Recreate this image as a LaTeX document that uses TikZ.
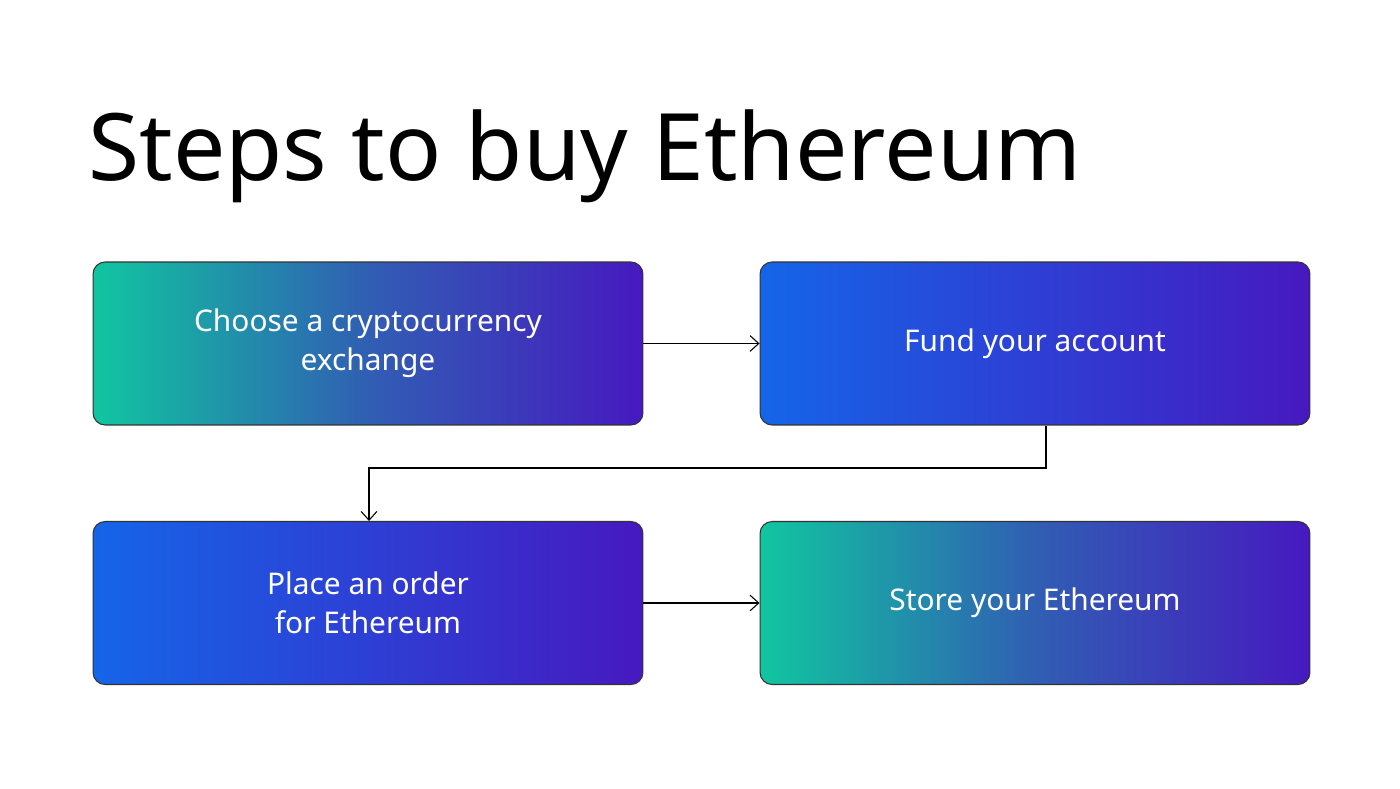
\documentclass[tikz,border=0pt]{standalone}
\usepackage{fontspec}
\setmainfont{Noto Sans}
\usetikzlibrary{arrows.meta}
\definecolor{teal}{HTML}{10C6A0}
\definecolor{blu}{HTML}{1565E8}
\definecolor{purp}{HTML}{4619C0}
\begin{document}
\begin{tikzpicture}[x=0.02cm,y=-0.02cm,
  box/.style={draw=black!80,line width=0.6pt,rounded corners=0.24cm,minimum width=11cm,minimum height=3.26cm,text=white,font=\fontsize{17}{22}\selectfont\bfseries,align=center,shading angle=-70},
  tb/.style={box,left color=teal,right color=purp,middle color=teal!40!purp},
  bb/.style={box,left color=blu,right color=purp,middle color=blu!50!purp},
  conn/.style={draw=black,line width=0.6pt,-{Straight Barb[length=5pt,width=9pt]}}]
\useasboundingbox (0,0) rectangle (1400,788);
\fill[white] (0,0) rectangle (1400,788);
\node[anchor=base west,inner sep=0,font=\fontsize{53}{60}\selectfont\bfseries] (title) at (88,180) {Steps to buy Ethereum};
\node[tb] (b1) at (368,343.5) {Choose a cryptocurrency\\exchange};
\node[bb] (b2) at (1035,343.5) {Fund your account};
\node[bb] (b3) at (368,603) {Place an order\\for Ethereum};
\node[tb] (b4) at (1035,603) {Store your Ethereum};
\coordinate (c1) at (1046,468);
\coordinate (c2) at (369,468);
\draw[conn] (b1.east) -- (b2.west);
\draw[conn] (b3.east) -- (b4.west);
\draw[conn] (b2.south -| c1) -- (c1) -- (c2) -- (b3.north -| c2);
\end{tikzpicture}
\end{document}
